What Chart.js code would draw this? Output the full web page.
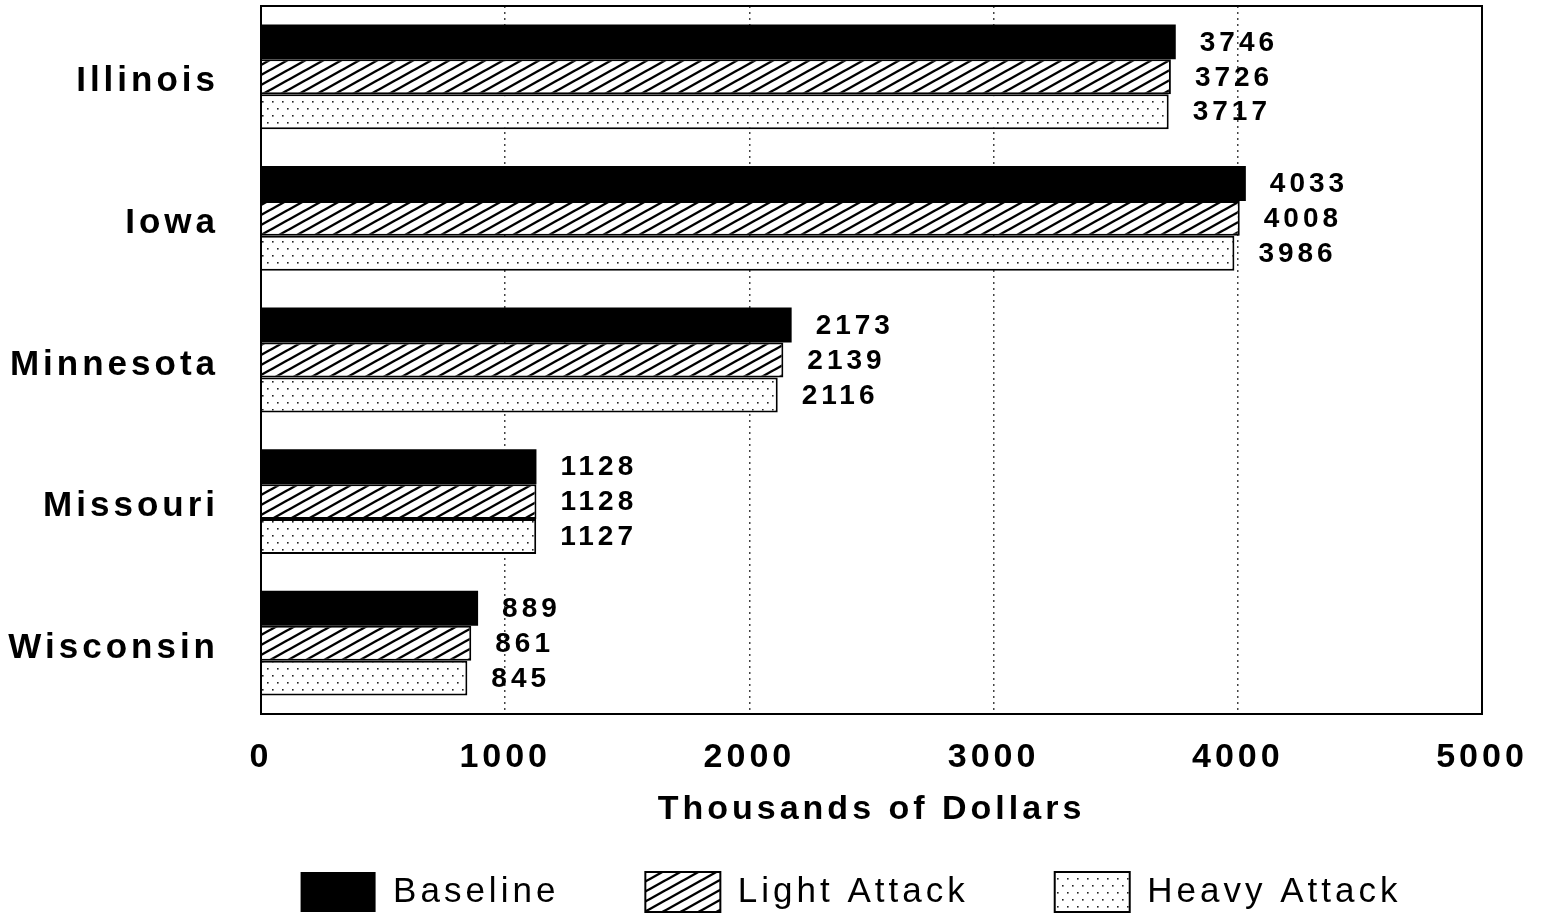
<!DOCTYPE html>
<html>
<head>
<meta charset="utf-8">
<script src="https://cdn.jsdelivr.net/npm/chart.js@4"></script>
<style>
  body { margin: 0; background: #fff; }
  canvas { display: block; }
</style>
</head>
<body>
<canvas id="myChart" width="1544" height="922"></canvas>
<script>
const states = ["Illinois", "Iowa", "Minnesota", "Missouri", "Wisconsin"];
const baseline = [3746, 4033, 2173, 1128, 889];
const lightAttack = [3726, 4008, 2139, 1128, 861];
const heavyAttack = [3717, 3986, 2116, 1127, 845];
const xTicks = [0, 1000, 2000, 3000, 4000, 5000];

const FONT = "'Liberation Sans', Arial, sans-serif";

// diagonal hatch, lines rising to the right
function hatchPattern() {
    const c = document.createElement("canvas");
    c.width = 18;
    c.height = 10;
    const g = c.getContext("2d");
    g.fillStyle = "#fff";
    g.fillRect(0, 0, 18, 10);
    g.strokeStyle = "#000";
    g.lineWidth = 2.4;
    for (let k = -1; k <= 1; k++) {
        g.beginPath();
        g.moveTo(-18, 20 + k * 10);
        g.lineTo(36, -10 + k * 10);
        g.stroke();
    }
    return g.createPattern(c, "repeat");
}

// sparse staggered dots
function dotPattern() {
    const c = document.createElement("canvas");
    c.width = 10;
    c.height = 14;
    const g = c.getContext("2d");
    g.fillStyle = "#fff";
    g.fillRect(0, 0, 10, 14);
    g.fillStyle = "#222";
    g.fillRect(2, 3, 1.6, 1.6);
    g.fillRect(7, 10, 1.6, 1.6);
    return g.createPattern(c, "repeat");
}

const spacing = {
    id: "spacing",
    beforeUpdate(chart) { chart.ctx.letterSpacing = "4px"; },
    beforeDraw(chart) { chart.ctx.letterSpacing = "4px"; }
};

// legend in the original sits under the plot, not under the whole page
const legendShift = {
    id: "legendShift",
    afterLayout(chart) {
        chart.legend.left += 110;
        chart.legend.right += 110;
    }
};

const frame = {
    id: "frame",
    afterDraw(chart) {
        const a = chart.chartArea;
        const ctx = chart.ctx;
        ctx.save();
        ctx.strokeStyle = "#000";
        ctx.lineWidth = 2;
        ctx.strokeRect(a.left, a.top, a.right - a.left, a.bottom - a.top);
        ctx.restore();
    }
};

const valueLabels = {
    id: "valueLabels",
    afterDatasetsDraw(chart) {
        const ctx = chart.ctx;
        ctx.save();
        ctx.fillStyle = "#000";
        ctx.font = "bold 28px " + FONT;
        ctx.textAlign = "left";
        ctx.textBaseline = "middle";
        chart.data.datasets.forEach((ds, i) => {
            chart.getDatasetMeta(i).data.forEach((bar, j) => {
                ctx.fillText(String(ds.data[j]), bar.x + 24, bar.y + 1);
            });
        });
        ctx.restore();
    }
};

const canvas = document.getElementById("myChart");

let myChart = new Chart(canvas, {
    type: "bar",
    data: {
        labels: states,
        datasets: [
            { label: "Baseline", data: baseline, backgroundColor: "#000", borderWidth: 0 },
            { label: "Light Attack", data: lightAttack, backgroundColor: hatchPattern(), borderColor: "#000", borderWidth: 2 },
            { label: "Heavy Attack", data: heavyAttack, backgroundColor: dotPattern(), borderColor: "#000", borderWidth: 2 }
        ]
    },
    options: {
        indexAxis: "y",
        responsive: false,
        animation: false,
        categoryPercentage: 0.74,
        barPercentage: 1,
        layout: { padding: { left: 0, right: 62, top: 6, bottom: 0 } },
        plugins: {
            tooltip: { enabled: false },
            legend: {
                position: "bottom",
                labels: {
                    boxWidth: 75,
                    boxHeight: 40,
                    padding: 86,
                    color: "#000",
                    font: { family: FONT, size: 35, weight: "normal" }
                }
            }
        },
        scales: {
            x: {
                min: 0,
                max: 5000,
                afterBuildTicks(scale) {
                    scale.ticks = xTicks.map(v => ({ value: v }));
                },
                afterFit(scale) {
                    scale.height = 72;
                    scale.paddingLeft = 0;
                    scale.paddingRight = 0;
                },
                grid: {
                    drawTicks: false,
                    lineWidth: 1.5,
                    color: ctx => (ctx.tick && (ctx.tick.value === 0 || ctx.tick.value === 5000)) ? "rgba(0,0,0,0)" : "#444"
                },
                border: { display: false, dash: [2, 4] },
                ticks: {
                    color: "#000",
                    padding: 23,
                    maxRotation: 0,
                    callback: v => String(v),
                    font: { family: FONT, size: 34, weight: "bold" }
                },
                title: {
                    display: true,
                    text: "Thousands of Dollars",
                    color: "#000",
                    padding: { top: 0, bottom: -44 },
                    font: { family: FONT, size: 34, weight: "bold" }
                }
            },
            y: {
                afterFit(scale) {
                    scale.width = 261;
                    scale.paddingTop = 0;
                    scale.paddingBottom = 0;
                },
                grid: { display: false, drawTicks: false },
                border: { display: false },
                ticks: {
                    color: "#000",
                    padding: 42,
                    labelOffset: 5,
                    font: { family: FONT, size: 35, weight: "bold" }
                }
            }
        }
    },
    plugins: [spacing, legendShift, frame, valueLabels]
});
</script>
</body>
</html>
